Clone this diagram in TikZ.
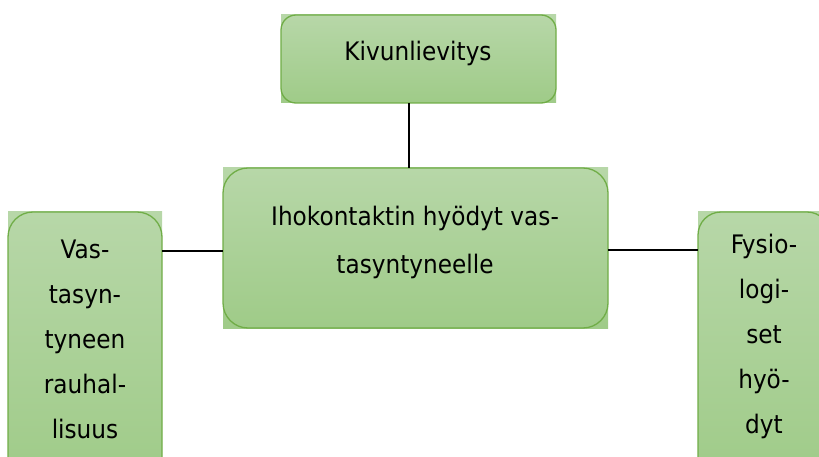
\documentclass[tikz,border=0pt]{standalone}
\usepackage{fontspec}
\setmainfont{DejaVu Sans}[FakeStretch=0.91]
\definecolor{boxtop}{RGB}{183,215,168}
\definecolor{boxbottom}{RGB}{159,203,136}
\definecolor{boxedge}{RGB}{112,173,71}
\tikzset{
  panel/.style={rectangle, inner sep=0pt, outer sep=0pt, top color=boxtop,
    bottom color=boxbottom, draw=none, anchor=north west},
  rim/.style={draw=boxedge, line width=1.3pt},
  caption/.style={align=center, inner sep=0pt, anchor=base,
    font=\fontsize{25.5}{48}\selectfont},
  sidecaption/.style={caption, font=\fontsize{25.5}{45}\selectfont},
  link/.style={draw=black, line width=2pt}
}
\begin{document}
\begin{tikzpicture}[x=1pt,y=-1pt]
\useasboundingbox (0,0) rectangle (819,457);
\clip (0,0) rectangle (819,457);

% box bodies
\node[panel, minimum width=275pt, minimum height=88pt]  (top)    at (281,15)  {};
\node[panel, minimum width=385pt, minimum height=160pt] (center) at (223,168) {};
\node[panel, minimum width=154pt, minimum height=270pt] (left)   at (8,212)   {};
\node[panel, minimum width=132pt, minimum height=270pt] (right)  at (698,212) {};

% rounded outlines
\draw[rim, rounded corners=15pt] (top.north west) rectangle (top.south east);
\draw[rim, rounded corners=25pt] (center.north west) rectangle (center.south east);
\draw[rim, rounded corners=25pt] (left.north west) rectangle (left.south east);
\draw[rim, rounded corners=23pt] (right.north west) rectangle (right.south east);

% connectors
\coordinate (vx) at (409,0);
\coordinate (hl) at (0,251);
\coordinate (hr) at (0,250);
\draw[link] (top.south -| vx) -- (center.north -| vx);
\draw[link] (left.east |- hl) -- (center.west |- hl);
\draw[link] (center.east |- hr) -- (right.west |- hr);

% labels
\node[caption] (toptext) at (418,61) {Kivunlievitys};
\node[caption] (centertext) at (415,273) {Ihokontaktin hyödyt vas-\\tasyntyneelle};
\node[sidecaption] (lefttext) at (85,438) {Vas-\\tasyn-\\tyneen\\rauhal-\\lisuus};
\node[sidecaption] (righttext) at (764,433) {Fysio-\\logi-\\set\\hyö-\\dyt};
\end{tikzpicture}
\end{document}
